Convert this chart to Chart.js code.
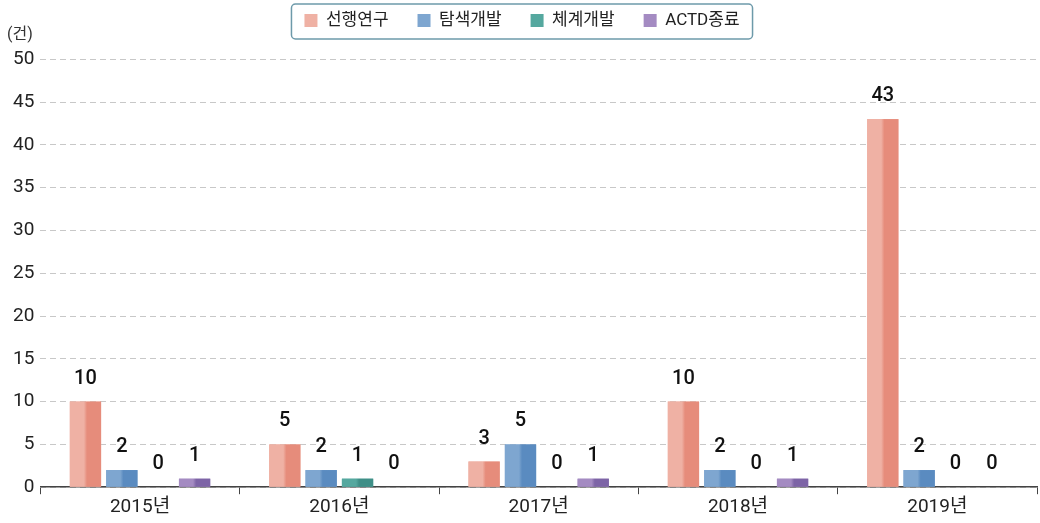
<!DOCTYPE html>
<html>
<head>
<meta charset="utf-8">
<script src="https://cdn.jsdelivr.net/npm/chart.js@4"></script>
<style>
  body { margin: 0; background: #fff; }
  #wrap { width: 1040px; height: 523px; }
</style>
</head>
<body>
<div id="wrap"><canvas id="chart"></canvas></div>
<script>
const years = ["2015년", "2016년", "2017년", "2018년", "2019년"];
const seriesNames = ["선행연구", "탐색개발", "체계개발", "ACTD종료"];
const preStudy = [10, 5, 3, 10, 43];
const exploreDev = [2, 2, 5, 2, 2];
const systemDev = [0, 1, 0, 0, 0];
const actdDone = [1, 0, 1, 1, 0];
const yTicks = [0, 5, 10, 15, 20, 25, 30, 35, 40, 45, 50];

// light / dark pair for each series (bars are shaded left to right)
const lightColors = ["#efb1a4", "#7ea6d0", "#55a89f", "#a48bc2"];
const darkColors = ["#e68c7b", "#5a8bc0", "#3f8f87", "#7d64a6"];

const FONT = "Roboto, 'Noto Sans CJK KR', sans-serif";

// shade each bar with a horizontal gradient
const barShade = {
    id: "barShade",
    afterDatasetsDraw(chart) {
        const ctx = chart.ctx;
        chart.data.datasets.forEach((ds, di) => {
            const meta = chart.getDatasetMeta(di);
            meta.data.forEach(bar => {
                const p = bar.getProps(["x", "y", "base", "width"], true);
                const h = p.base - p.y;
                if (h <= 0) return;
                const left = p.x - p.width / 2;
                const g = ctx.createLinearGradient(left, 0, left + p.width, 0);
                g.addColorStop(0, lightColors[di]);
                g.addColorStop(0.45, lightColors[di]);
                g.addColorStop(0.55, darkColors[di]);
                g.addColorStop(1, darkColors[di]);
                ctx.save();
                ctx.fillStyle = g;
                ctx.fillRect(left, p.y, p.width, h);
                ctx.restore();
            });
        });
    }
};

// value labels above bars
const valueLabels = {
    id: "valueLabels",
    afterDatasetsDraw(chart) {
        const ctx = chart.ctx;
        ctx.save();
        ctx.fillStyle = "#111";
        ctx.font = "500 20px " + FONT;
        ctx.textAlign = "center";
        ctx.textBaseline = "middle";
        chart.data.datasets.forEach((ds, di) => {
            const meta = chart.getDatasetMeta(di);
            meta.data.forEach((bar, i) => {
                ctx.fillText(String(ds.data[i]), bar.x, bar.y - 23);
            });
        });
        ctx.restore();
    }
};

// box around the legend
const legendBox = {
    id: "legendBox",
    afterDraw(chart) {
        const ctx = chart.ctx;
        const boxes = chart.legend.legendHitBoxes;
        if (!boxes || !boxes.length) return;
        const x0 = boxes[0].left - 13;
        const last = boxes[boxes.length - 1];
        const x1 = last.left + last.width + 13;
        const y0 = boxes[0].top - 8;
        const y1 = boxes[0].top + boxes[0].height + 10;
        ctx.save();
        ctx.strokeStyle = "#6d9aaa";
        ctx.lineWidth = 1.5;
        ctx.beginPath();
        ctx.roundRect(x0, y0, x1 - x0, y1 - y0, 4);
        ctx.stroke();
        ctx.restore();
    }
};

const seriesData = [preStudy, exploreDev, systemDev, actdDone];

new Chart(document.getElementById("chart"), {
    type: "bar",
    data: {
        labels: years,
        datasets: seriesNames.map((name, i) => ({
            label: name,
            data: seriesData[i],
            backgroundColor: lightColors[i],
            borderWidth: 0,
            categoryPercentage: 0.73,
            barPercentage: 0.86
        }))
    },
    options: {
        responsive: true,
        maintainAspectRatio: false,
        animation: false,
        layout: { padding: { left: 7, right: 3, top: -17, bottom: 2 } },
        plugins: {
            legend: {
                position: "top",
                labels: {
                    boxWidth: 13,
                    boxHeight: 13,
                    padding: 29,
                    color: "#222",
                    font: { family: FONT, size: 17 }
                }
            },
            title: {
                display: true,
                text: "(건)",
                align: "start",
                position: "top",
                weight: 500,
                color: "#333",
                font: { family: FONT, size: 16, weight: "normal" },
                padding: { top: -14, bottom: 15 }
            },
            tooltip: { enabled: false }
        },
        scales: {
            x: {
                grid: {
                    display: true,
                    drawOnChartArea: false,
                    drawTicks: true,
                    tickLength: 7,
                    color: "#444"
                },
                border: { display: true, color: "#444", width: 1.5 },
                ticks: {
                    color: "#222",
                    font: { family: FONT, size: 19 },
                    padding: 2
                }
            },
            y: {
                min: 0,
                max: 50,
                afterBuildTicks(axis) {
                    axis.ticks = yTicks.map(v => ({ value: v }));
                },
                grid: {
                    color: "#c8c8c8",
                    drawTicks: false
                },
                border: { display: false, dash: [6, 4] },
                ticks: {
                    color: "#222",
                    font: { family: FONT, size: 19 },
                    padding: 6
                }
            }
        }
    },
    plugins: [barShade, valueLabels, legendBox]
});
</script>
</body>
</html>
